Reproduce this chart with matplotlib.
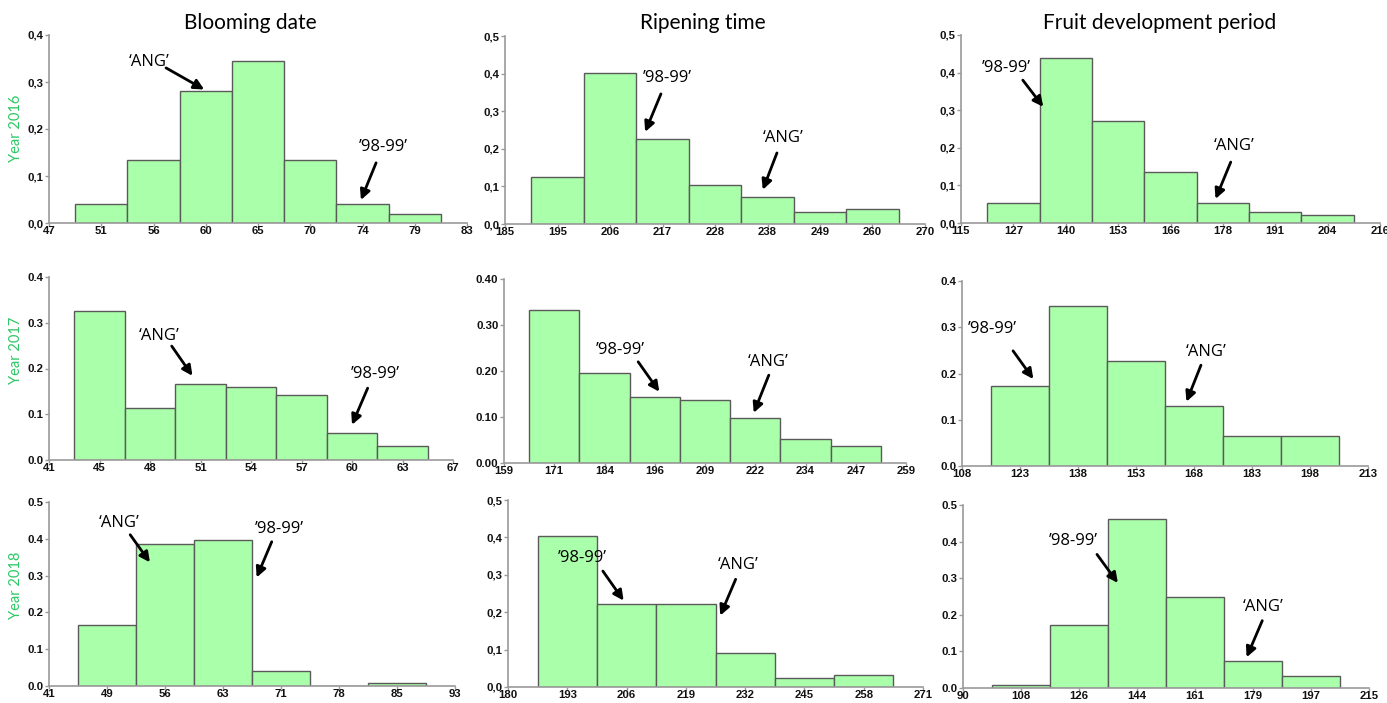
import matplotlib
matplotlib.use("Agg")
import matplotlib.pyplot as plt
from matplotlib.ticker import FixedLocator, FuncFormatter

# ---- data -----------------------------------------------------------------
col_titles = ["Blooming date", "Ripening time", "Fruit development period"]
row_titles = ["Year 2016", "Year 2017", "Year 2018"]

# x tick labels (first and last are the axis ends, bars sit on the inner ones)
ticks_2016_bloom = ["47", "51", "56", "60", "65", "70", "74", "79", "83"]
ticks_2016_ripen = ["185", "195", "206", "217", "228", "238", "249", "260", "270"]
ticks_2016_fdp = ["115", "127", "140", "153", "166", "178", "191", "204", "216"]
ticks_2017_bloom = ["41", "45", "48", "51", "54", "57", "60", "63", "67"]
ticks_2017_ripen = ["159", "171", "184", "196", "209", "222", "234", "247", "259"]
ticks_2017_fdp = ["108", "123", "138", "153", "168", "183", "198", "213"]
ticks_2018_bloom = ["41", "49", "56", "63", "71", "78", "85", "93"]
ticks_2018_ripen = ["180", "193", "206", "219", "232", "245", "258", "271"]
ticks_2018_fdp = ["90", "108", "126", "144", "161", "179", "197", "215"]

# relative frequencies per class
freq_2016_bloom = [0.040, 0.135, 0.281, 0.344, 0.135, 0.040, 0.020]
freq_2016_ripen = [0.124, 0.402, 0.227, 0.103, 0.072, 0.031, 0.041]
freq_2016_fdp = [0.052, 0.438, 0.271, 0.136, 0.052, 0.030, 0.020]
freq_2017_bloom = [0.325, 0.114, 0.167, 0.159, 0.143, 0.060, 0.031]
freq_2017_ripen = [0.333, 0.196, 0.143, 0.136, 0.098, 0.052, 0.037]
freq_2017_fdp = [0.173, 0.345, 0.227, 0.129, 0.065, 0.065]
freq_2018_bloom = [0.166, 0.387, 0.396, 0.042, 0.000, 0.009]
freq_2018_ripen = [0.405, 0.223, 0.223, 0.091, 0.025, 0.032]
freq_2018_fdp = [0.008, 0.173, 0.462, 0.248, 0.075, 0.032]

# ---- layout / styling -------------------------------------------------------
W, H = 1387, 703
BAR_FACE = "#aaffaa"
BAR_EDGE = "#5a5a5a"
AXIS_GREY = "#9a9a9a"
YEAR_GREEN = "#2ec866"
ANNOT_FONT = ["Open Sans", "DejaVu Sans"]
TICK_FONT = ["Liberation Sans", "DejaVu Sans"]

# each panel: (pixel box x0, x1, y_bottom, y_top), ticks, freqs, ymax, y format,
# annotations as (label, label_pos, arrow_start, arrow_tip) in data units
panels = [
    [(49, 467, 223, 35), ticks_2016_bloom, freq_2016_bloom, 0.4, ("{:.1f}", ","),
     [("\u2018ANG\u2019", (1.91, 0.343), (2.24, 0.330), (2.97, 0.284)),
      ("\u201998-99\u2019", (6.39, 0.162), (6.26, 0.128), (5.97, 0.049))]],
    [(505, 925, 224, 36), ticks_2016_ripen, freq_2016_ripen, 0.5, ("{:.1f}", ","),
     [("\u201998-99\u2019", (3.10, 0.388), (2.97, 0.346), (2.67, 0.245)),
      ("\u2018ANG\u2019", (5.30, 0.229), (5.18, 0.189), (4.91, 0.091))]],
    [(961, 1380, 223, 35), ticks_2016_fdp, freq_2016_fdp, 0.5, ("{:.1f}", ","),
     [("\u201998-99\u2019", (0.86, 0.412), (1.18, 0.380), (1.57, 0.309)),
      ("\u2018ANG\u2019", (5.21, 0.205), (5.15, 0.162), (4.86, 0.064))]],
    [(49, 453, 460, 277), ticks_2017_bloom, freq_2017_bloom, 0.4, ("{:.1f}", "."),
     [("\u2018ANG\u2019", (2.18, 0.271), (2.43, 0.249), (2.84, 0.184)),
      ("\u201998-99\u2019", (6.46, 0.188), (6.31, 0.157), (6.00, 0.077))]],
    [(504, 906, 463, 279), ticks_2017_ripen, freq_2017_ripen, 0.4, ("{:.2f}", "."),
     [("\u201998-99\u2019", (2.31, 0.246), (2.67, 0.220), (3.09, 0.155)),
      ("\u2018ANG\u2019", (5.25, 0.220), (5.27, 0.191), (4.97, 0.109))]],
    [(962, 1368, 466, 281), ticks_2017_fdp, freq_2017_fdp, 0.4, ("{:.1f}", "."),
     [("\u201998-99\u2019", (0.53, 0.296), (0.88, 0.249), (1.23, 0.188)),
      ("\u2018ANG\u2019", (4.21, 0.246), (4.12, 0.218), (3.87, 0.139))]],
    [(49, 455, 686, 502), ticks_2018_bloom, freq_2018_bloom, 0.5, ("{:.1f}", "."),
     [("\u2018ANG\u2019", (1.21, 0.443), (1.40, 0.411), (1.74, 0.336)),
      ("\u201998-99\u2019", (3.97, 0.427), (3.84, 0.392), (3.58, 0.295))]],
    [(508, 923, 687, 500), ticks_2018_ripen, freq_2018_ripen, 0.5, ("{:.1f}", ","),
     [("\u201998-99\u2019", (1.25, 0.344), (1.60, 0.310), (1.95, 0.231)),
      ("\u2018ANG\u2019", (3.88, 0.325), (3.84, 0.288), (3.58, 0.191))]],
    [(963, 1369, 688, 505), ticks_2018_fdp, freq_2018_fdp, 0.5, ("{:.1f}", "."),
     [("\u201998-99\u2019", (1.91, 0.403), (2.31, 0.365), (2.67, 0.287)),
      ("\u2018ANG\u2019", (5.17, 0.222), (5.16, 0.184), (4.89, 0.084))]],
]

fig = plt.figure(figsize=(W / 100, H / 100), dpi=100)
fig.patch.set_facecolor("white")


def make_formatter(fmt, sep):
    return FuncFormatter(lambda v, pos: fmt.format(v).replace(".", sep))


for (x0, x1, yb, yt), ticks, freqs, ymax, (fmt, sep), notes in panels:
    ax = fig.add_axes([x0 / W, 1 - yb / H, (x1 - x0) / W, (yb - yt) / H])
    n_ticks = len(ticks)
    positions = list(range(1, len(freqs) + 1))
    ax.bar(positions, freqs, width=1.0, color=BAR_FACE, edgecolor=BAR_EDGE,
           linewidth=1.0, zorder=2)
    ax.set_xlim(0, n_ticks - 1)
    ax.set_ylim(0, ymax)
    ax.xaxis.set_major_locator(FixedLocator(range(n_ticks)))
    ax.set_xticklabels(ticks)
    yt_vals = [i / 10 for i in range(int(round(ymax * 10)) + 1)]
    ax.yaxis.set_major_locator(FixedLocator(yt_vals))
    ax.yaxis.set_major_formatter(make_formatter(fmt, sep))

    for side in ("top", "right"):
        ax.spines[side].set_visible(False)
    for side in ("left", "bottom"):
        ax.spines[side].set_color(AXIS_GREY)
        ax.spines[side].set_linewidth(1.2)
    ax.tick_params(axis="both", which="major", length=3, width=1, color=AXIS_GREY,
                   direction="out", pad=1.0, labelsize=8.2, labelcolor="#111111")
    ax.tick_params(axis="x", length=2, pad=0.5)
    for lab in ax.get_xticklabels() + ax.get_yticklabels():
        lab.set_family(TICK_FONT)
        lab.set_fontweight("bold")

    for label, text_pos, start, tip in notes:
        ax.text(text_pos[0], text_pos[1], label, ha="center", va="center",
                fontsize=12, family=ANNOT_FONT, color="black", zorder=5)
        ax.annotate("", xy=tip, xytext=start,
                    arrowprops=dict(arrowstyle="-|>", color="black", lw=2.0,
                                    mutation_scale=15, shrinkA=0, shrinkB=0),
                    zorder=5)

# column titles
for title, xc in zip(col_titles, (250, 703, 1160)):
    fig.text(xc / W, 1 - 23 / H, title, ha="center", va="center", fontsize=15,
             family=["Lato", "DejaVu Sans"])

# row titles
for title, yc in zip(row_titles, (128, 350, 585)):
    fig.text(16 / W, 1 - yc / H, title, ha="center", va="center", rotation=90,
             fontsize=10.5, color=YEAR_GREEN, family=["Lato", "DejaVu Sans"])

fig.savefig("out.png", dpi=100)
